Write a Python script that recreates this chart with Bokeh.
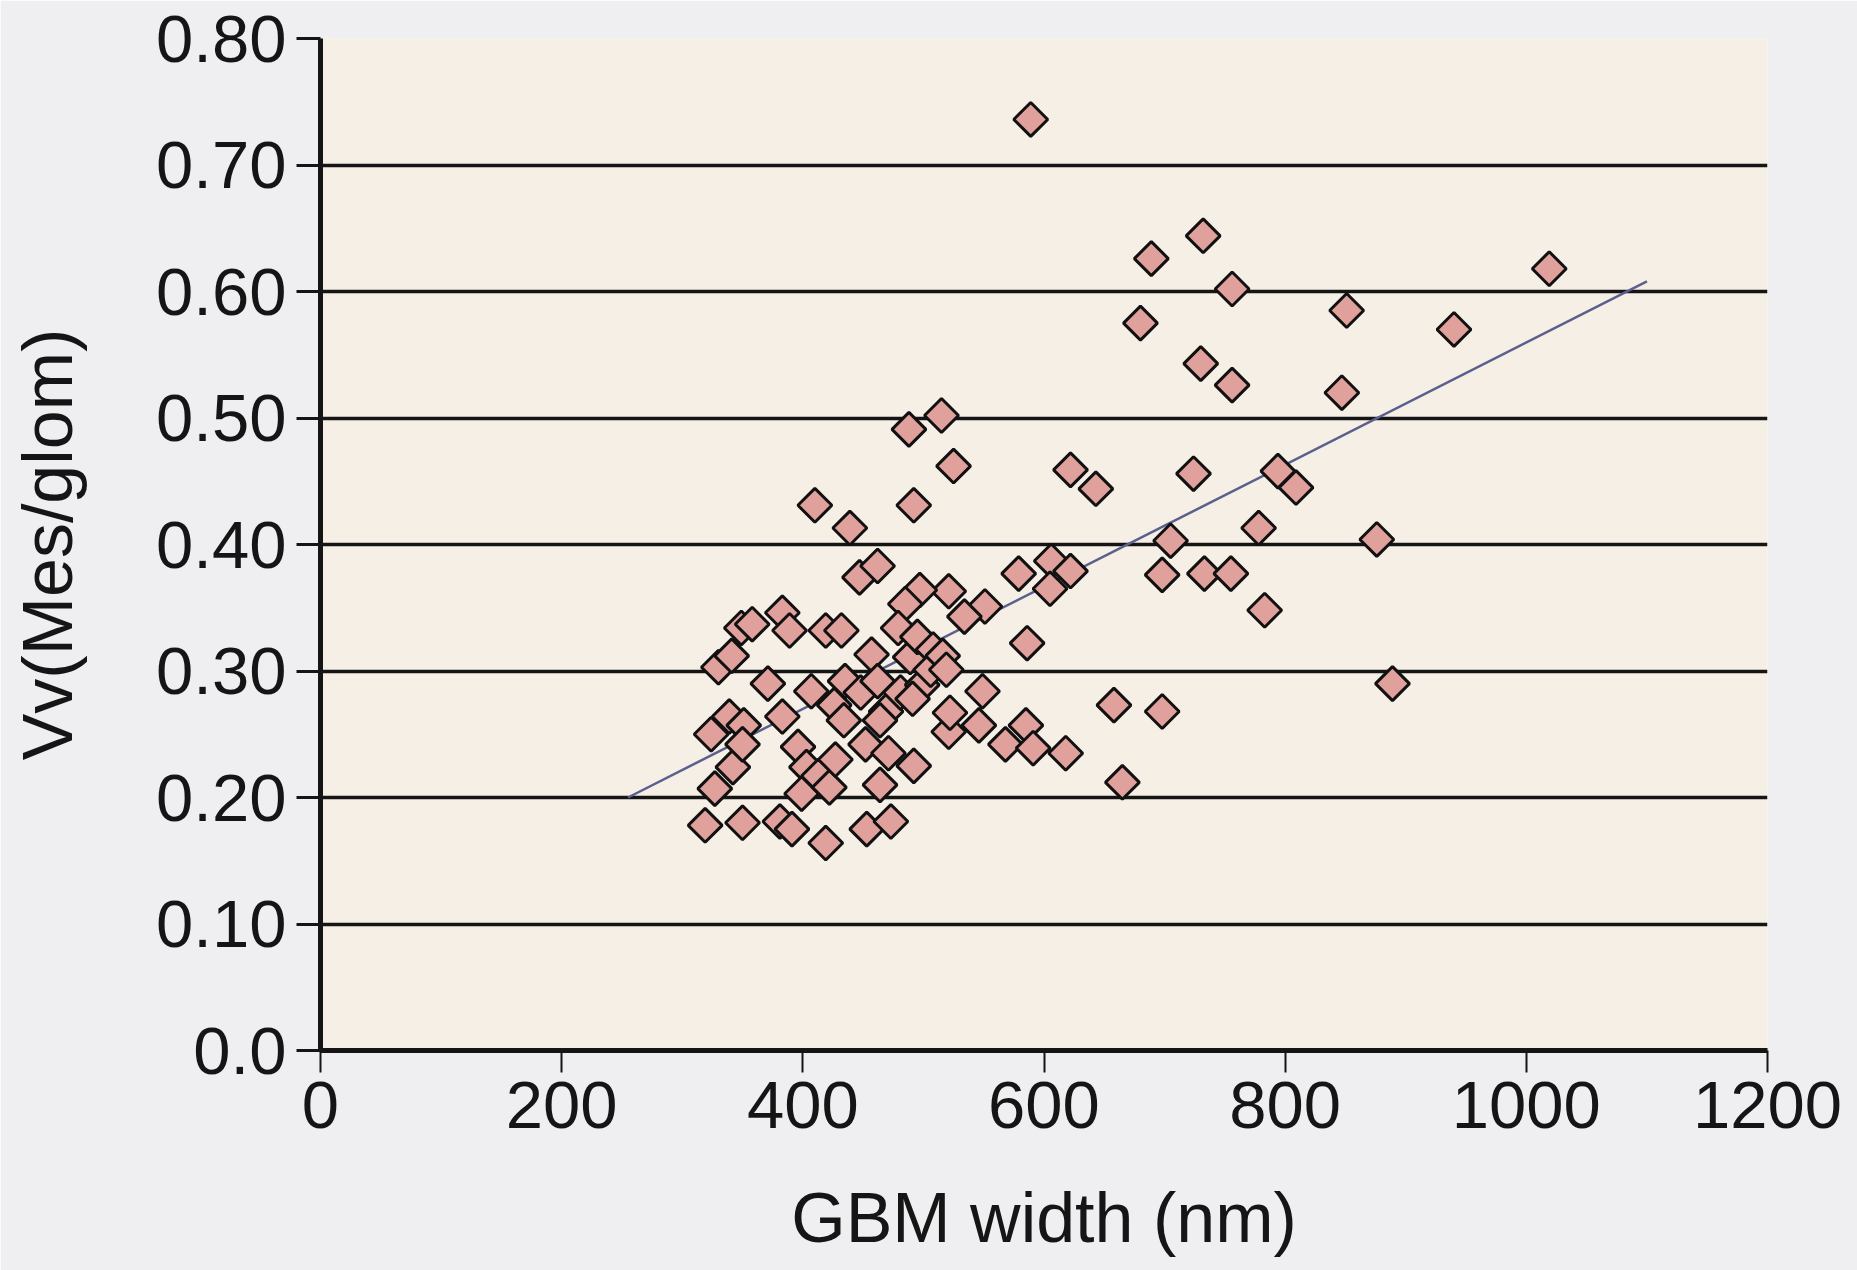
import numpy as np
from bokeh.plotting import figure
from bokeh.models import Range1d, FixedTicker
from bokeh.embed import file_html
from bokeh.resources import INLINE

# ---- data ----
gbm_width = [
    589, 732, 689, 756, 1019, 940, 851, 680, 730, 756, 847, 515, 488, 525, 622, 724,
    643, 794, 809, 410, 492, 439, 778, 876, 705, 447, 462, 579, 606, 622, 605, 698,
    733, 755, 783, 521, 497, 551, 534, 586, 889, 658, 698, 665, 618, 585, 568, 591,
    546, 549, 521, 522,
    330, 341, 349, 358, 383, 389, 371, 324, 339, 351, 342, 350, 327, 319, 350, 381,
    391, 383, 396, 407, 419, 432, 403, 399, 413, 422, 419, 427, 426, 434, 435, 448,
    457, 462, 469, 452, 471, 464, 453, 473, 464, 481, 485, 479, 489, 492, 495, 508,
    499, 506, 516, 491, 519,
]
vv_mes_glom = [
    0.736, 0.644, 0.626, 0.602, 0.618, 0.570, 0.585, 0.575, 0.543, 0.526, 0.520, 0.502,
    0.491, 0.462, 0.459, 0.456, 0.444, 0.458, 0.445, 0.431, 0.431, 0.413, 0.413, 0.404,
    0.403, 0.374, 0.383, 0.377, 0.387, 0.379, 0.365, 0.376, 0.377, 0.377, 0.348, 0.363,
    0.364, 0.351, 0.343, 0.322, 0.290, 0.273, 0.268, 0.212, 0.235, 0.257, 0.242, 0.239,
    0.257, 0.284, 0.252, 0.267,
    0.303, 0.312, 0.334, 0.337, 0.346, 0.332, 0.290, 0.250, 0.264, 0.257, 0.224, 0.242,
    0.207, 0.178, 0.180, 0.181, 0.175, 0.264, 0.240, 0.284, 0.332, 0.332, 0.224, 0.203,
    0.217, 0.208, 0.164, 0.230, 0.273, 0.261, 0.292, 0.283, 0.313, 0.292, 0.268, 0.242,
    0.235, 0.210, 0.175, 0.181, 0.261, 0.283, 0.353, 0.334, 0.311, 0.225, 0.327, 0.317,
    0.289, 0.301, 0.312, 0.278, 0.301,
]
trend_x = [255, 1100]
trend_y = [0.200, 0.608]

x_ticks = [0, 200, 400, 600, 800, 1000, 1200]
y_ticks = [0.0, 0.1, 0.2, 0.3, 0.4, 0.5, 0.6, 0.7, 0.8]
y_tick_labels = ["0.0", "0.10", "0.20", "0.30", "0.40", "0.50", "0.60", "0.70", "0.80"]

FONT = "Liberation Sans"
INK = "#151515"

p = figure(
    width=1857, height=1270,
    x_range=Range1d(0, 1200), y_range=Range1d(0, 0.8),
    output_backend="svg", toolbar_location=None,
    min_border_left=320, min_border_right=90, min_border_top=38, min_border_bottom=220,
    background_fill_color="#f6efe5", border_fill_color="#efeff1",
    outline_line_color=None,
)

# axes
p.xaxis.ticker = FixedTicker(ticks=x_ticks)
p.yaxis.ticker = FixedTicker(ticks=y_ticks)
p.yaxis.major_label_overrides = {t: l for t, l in zip(y_ticks, y_tick_labels)}
p.xaxis.major_label_overrides = {t: str(t) for t in x_ticks}

for ax in (p.xaxis[0], p.yaxis[0]):
    ax.axis_line_color = INK
    ax.axis_line_width = 5
    ax.major_tick_line_color = INK
    ax.major_tick_line_width = 3
    ax.major_tick_in = 0
    ax.minor_tick_line_color = None
    ax.major_label_text_font = FONT
    ax.major_label_text_font_size = "67px"
    ax.major_label_text_color = INK
    ax.axis_label_text_font = FONT
    ax.axis_label_text_font_size = "70px"
    ax.axis_label_text_font_style = "normal"
    ax.axis_label_text_color = INK

p.xaxis.major_tick_out = 22
p.xaxis.major_tick_line_width = 2
p.xaxis.major_label_standoff = 9
p.xaxis.axis_label = "GBM width (nm)"
p.xaxis.axis_label_standoff = 48

p.yaxis.major_tick_out = 24
p.yaxis.major_label_standoff = 10
p.yaxis.axis_label = "Vv(Mes/glom)"
p.yaxis.axis_label_standoff = 66

# grid
p.xgrid.grid_line_color = None
p.ygrid.ticker = FixedTicker(ticks=y_ticks)
p.ygrid.grid_line_color = INK
p.ygrid.grid_line_width = 3.5

# trend line and points
p.line(trend_x, trend_y, line_color="#5a5f8e", line_width=2.5)
p.scatter(gbm_width, vv_mes_glom, marker="square", angle=np.pi / 4, size=24,
          fill_color="#e0a19c", line_color="#111111", line_width=3)

open("out.html", "w").write(file_html(p, INLINE))
